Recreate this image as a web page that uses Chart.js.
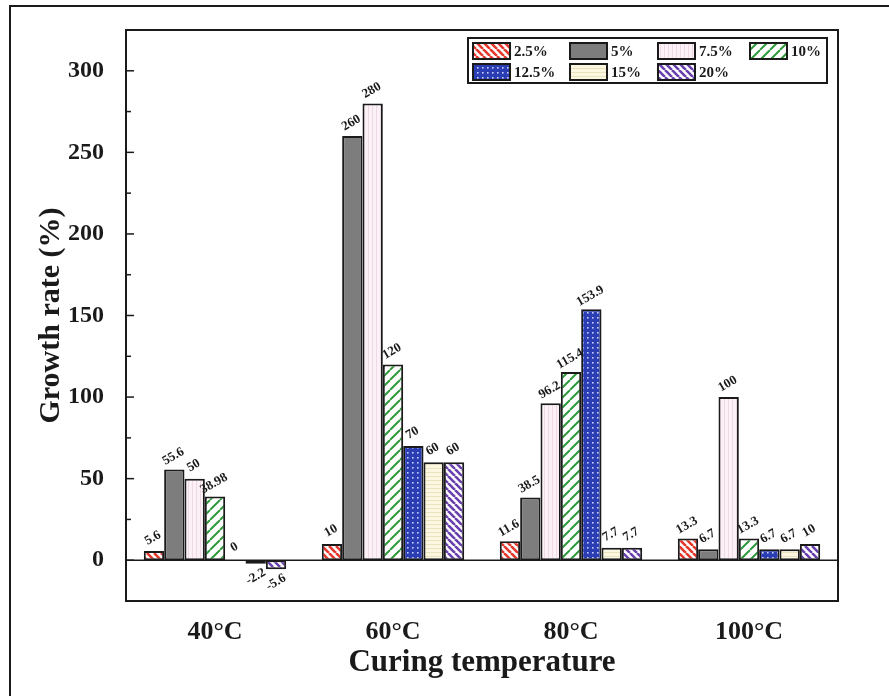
<!DOCTYPE html>
<html>
<head>
<meta charset="utf-8">
<script src="https://cdn.jsdelivr.net/npm/chart.js@4.4.1/dist/chart.umd.min.js"></script>
<style>
  html, body { margin: 0; padding: 0; background: #fff; overflow: hidden; }
  #frame { position: absolute; left: 9px; top: 5px; width: 900px; height: 720px;
           border-left: 2px solid #1a1a1a; border-top: 2px solid #1a1a1a; }
  #growthChart { position: absolute; left: 0; top: 0; }
</style>
</head>
<body>
<div id="frame"></div>
<canvas id="growthChart" width="889" height="696"></canvas>
<script>
// data
const temps = ['40\u00B0C', '60\u00B0C', '80\u00B0C', '100\u00B0C'];
const contents = ['2.5%', '5%', '7.5%', '10%', '12.5%', '15%', '20%'];
const rate2_5 = [5.6, 10, 11.6, 13.3];
const rate5 = [55.6, 260, 38.5, 6.7];
const rate7_5 = [50, 280, 96.2, 100];
const rate10 = [38.98, 120, 115.4, 13.3];
const rate12_5 = [0, 70, 153.9, 6.7];
const rate15 = [-2.2, 60, 7.7, 6.7];
const rate20 = [-5.6, 60, 7.7, 10];
const yTicks = [0, 50, 100, 150, 200, 250, 300];

const serif = '"Liberation Serif", "Times New Roman", serif';
const ink = '#1a1a1a';

function makePattern(size, bg, draw) {
  const c = document.createElement('canvas');
  c.width = size; c.height = size;
  const g = c.getContext('2d');
  g.fillStyle = bg;
  g.fillRect(0, 0, size, size);
  draw(g, size);
  return g.createPattern(c, 'repeat');
}

function stripes(color, width, dir) {
  return (g, s) => {
    g.strokeStyle = color;
    g.lineWidth = width;
    g.beginPath();
    for (let k = -1; k <= 1; k++) {
      if (dir === 'back') { g.moveTo(k * s, 0); g.lineTo(k * s + s, s); }
      else { g.moveTo(k * s, s); g.lineTo(k * s + s, 0); }
    }
    g.stroke();
  };
}

const fills = [
  makePattern(7, '#ffffff', stripes('#e5372c', 2.6, 'back')),
  '#7d7d7d',
  makePattern(4, '#fcf1f6', (g, s) => { g.fillStyle = '#efd9e4'; g.fillRect(0, 0, 1, s); }),
  makePattern(10, '#ffffff', stripes('#2f9a3c', 2, 'fwd')),
  makePattern(5, '#2b3db3', (g, s) => { g.fillStyle = '#c8d0ff'; g.fillRect(2, 2, 1.6, 1.6); }),
  makePattern(4, '#fbf7e0', (g, s) => { g.fillStyle = '#ebe3bd'; g.fillRect(0, 0, s, 1); }),
  makePattern(7, '#ffffff', stripes('#6a3fae', 2.6, 'back'))
];

const series = [rate2_5, rate5, rate7_5, rate10, rate12_5, rate15, rate20];

// frame, zero line and inward ticks
const framePlugin = {
  id: 'framePlugin',
  afterDatasetsDraw(chart) {
    const { ctx, chartArea: a, scales: { y } } = chart;
    ctx.save();
    ctx.strokeStyle = ink;
    ctx.lineWidth = 1.5;
    const y0 = y.getPixelForValue(0);
    ctx.beginPath();
    ctx.moveTo(a.left, y0); ctx.lineTo(a.right, y0);
    ctx.stroke();
    ctx.lineWidth = 2;
    ctx.strokeRect(a.left, a.top, a.right - a.left, a.bottom - a.top);
    ctx.lineWidth = 1.5;
    y.ticks.forEach(t => {
      const py = y.getPixelForValue(t.value);
      const len = t.value % 50 === 0 ? 8 : 5;
      ctx.beginPath();
      ctx.moveTo(a.left, py); ctx.lineTo(a.left + len, py);
      ctx.stroke();
    });
    ctx.restore();
  }
};

// rotated value labels
const labelPlugin = {
  id: 'labelPlugin',
  afterDatasetsDraw(chart) {
    const { ctx } = chart;
    ctx.save();
    ctx.fillStyle = ink;
    ctx.font = 'bold 13px ' + serif;
    ctx.textAlign = 'center';
    ctx.textBaseline = 'middle';
    chart.data.datasets.forEach((ds, i) => {
      chart.getDatasetMeta(i).data.forEach((bar, j) => {
        const v = ds.data[j];
        ctx.save();
        if (v >= 0) ctx.translate(bar.x - 1, bar.y - 13);
        else ctx.translate(bar.x, bar.y + 13);
        ctx.rotate(-Math.PI / 6);
        ctx.fillText(String(v), 0, 0);
        ctx.restore();
      });
    });
    ctx.restore();
  }
};

// boxed legend inside the plot
const legendPlugin = {
  id: 'boxLegend',
  afterDraw(chart) {
    const { ctx, chartArea: a } = chart;
    const left = a.right - 370, top = a.top + 8, w = 359, h = 45;
    const cols = [5, 102, 190, 282];
    ctx.save();
    ctx.fillStyle = '#fff';
    ctx.fillRect(left, top, w, h);
    ctx.font = 'bold 15px ' + serif;
    ctx.textBaseline = 'middle';
    ctx.textAlign = 'left';
    chart.data.datasets.forEach((ds, i) => {
      const x = left + cols[i % 4];
      const y = top + 5 + Math.floor(i / 4) * 21;
      ctx.fillStyle = ds.backgroundColor;
      ctx.fillRect(x, y, 37, 16);
      ctx.strokeStyle = ink;
      ctx.lineWidth = 2;
      ctx.strokeRect(x, y, 37, 16);
      ctx.fillStyle = ink;
      ctx.fillText(ds.label, x + 41, y + 9);
    });
    ctx.lineWidth = 2;
    ctx.strokeRect(left, top, w, h);
    ctx.restore();
  }
};

new Chart(document.getElementById('growthChart'), {
  type: 'bar',
  data: {
    labels: temps,
    datasets: series.map((d, i) => ({
      label: contents[i],
      data: d,
      backgroundColor: fills[i],
      borderColor: ink,
      borderWidth: 2,
      borderSkipped: false,
      categoryPercentage: 0.8,
      barPercentage: 1.0
    }))
  },
  options: {
    responsive: false,
    animation: false,
    layout: { padding: { left: 0, right: 51, top: 30, bottom: 0 } },
    plugins: { legend: { display: false }, tooltip: { enabled: false } },
    scales: {
      x: {
        grid: { display: false },
        border: { display: false },
        ticks: { color: ink, padding: 8, font: { family: serif, weight: 'bold', size: 26 } },
        title: { display: true, text: 'Curing temperature', color: ink,
                 font: { family: serif, weight: 'bold', size: 31 }, padding: { top: 0, bottom: 14 } },
        afterFit(s) { s.height = 95; }
      },
      y: {
        min: -25,
        max: 325,
        grid: { display: false },
        border: { display: false },
        afterBuildTicks(s) {
          const t = [];
          for (let v = -25; v <= 325; v += 25) t.push({ value: v });
          s.ticks = t;
        },
        ticks: {
          color: ink, padding: 14,
          font: { family: serif, weight: 'bold', size: 24 },
          callback: v => yTicks.includes(v) ? String(v) : ''
        },
        title: { display: true, text: 'Growth rate (%)', color: ink,
                 font: { family: serif, weight: 'bold', size: 30 }, padding: { top: 33, bottom: 0 } },
        afterFit(s) { s.width = 126; }
      }
    }
  },
  plugins: [framePlugin, labelPlugin, legendPlugin]
});
</script>
</body>
</html>
